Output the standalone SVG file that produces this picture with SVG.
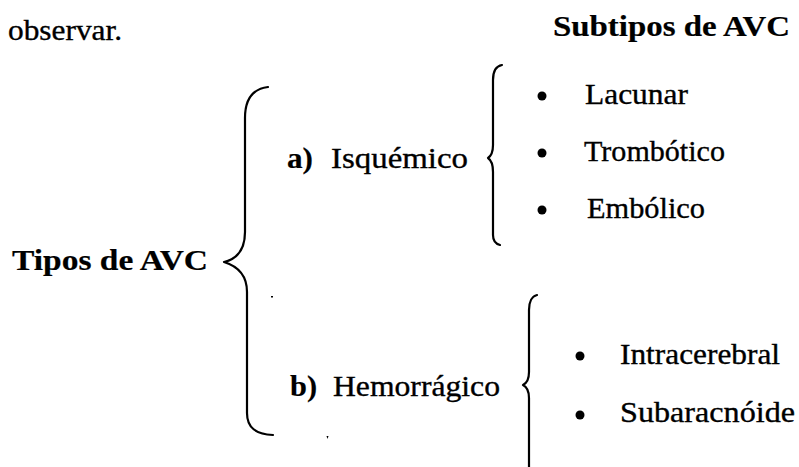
<svg xmlns="http://www.w3.org/2000/svg" width="799" height="467" viewBox="0 0 799 467">
  <style>
    text { font-family: "Liberation Serif", "Times New Roman", serif; font-size: 29px; fill: #000; stroke: #000; stroke-width: 0.35; }
    text.b { font-weight: bold; stroke-width: 0.2; }
    .brace { fill: none; stroke: #000; stroke-width: 2.2; stroke-linecap: round; stroke-linejoin: round; }
    .dot { fill: #000; }
  </style>
  <rect width="799" height="467" fill="#fff"/>

  <text x="8" y="40" textLength="114" lengthAdjust="spacingAndGlyphs">observar.</text>

  <g id="header">
    <text class="b" x="553" y="36" textLength="237" lengthAdjust="spacingAndGlyphs">Subtipos de AVC</text>
  </g>

  <g id="root">
    <text class="b" x="12" y="270" textLength="196" lengthAdjust="spacingAndGlyphs">Tipos de AVC</text>
  </g>

  <g id="isquemico">
    <text class="b" x="287" y="168" textLength="26" lengthAdjust="spacingAndGlyphs">a)</text>
    <text x="331" y="168" textLength="137" lengthAdjust="spacingAndGlyphs">Isquémico</text>
  </g>

  <g id="hemorragico">
    <text class="b" x="290" y="396" textLength="27" lengthAdjust="spacingAndGlyphs">b)</text>
    <text x="333" y="396" textLength="167" lengthAdjust="spacingAndGlyphs">Hemorrágico</text>
  </g>

  <g id="lacunar">
    <circle class="dot" cx="542" cy="96" r="4.5"/>
    <text x="585" y="104" textLength="103" lengthAdjust="spacingAndGlyphs">Lacunar</text>
  </g>
  <g id="trombotico">
    <circle class="dot" cx="542" cy="153" r="4.5"/>
    <text x="584" y="161" textLength="141" lengthAdjust="spacingAndGlyphs">Trombótico</text>
  </g>
  <g id="embolico">
    <circle class="dot" cx="542" cy="210" r="4.5"/>
    <text x="587" y="218" textLength="118" lengthAdjust="spacingAndGlyphs">Embólico</text>
  </g>
  <g id="intracerebral">
    <circle class="dot" cx="580" cy="356" r="4.5"/>
    <text x="620" y="364" textLength="160" lengthAdjust="spacingAndGlyphs">Intracerebral</text>
  </g>
  <g id="subaracnoide">
    <circle class="dot" cx="580" cy="415" r="4.5"/>
    <text x="620" y="422" textLength="175" lengthAdjust="spacingAndGlyphs">Subaracnóide</text>
  </g>

  <g id="connectors">
    <!-- main brace: Tipos de AVC -> a) / b) -->
    <path class="brace" d="M268,87 C252,89 245,100 245,118 L245,232 C245,250 237,259 224,262 C237,266 247,275 247,292 L247,413 C247,428 256,434 273,435"/>
    <!-- brace: Isquémico -> subtypes -->
    <path class="brace" d="M502,65 C496,66 493,72 493,80 L493,145 C493,152 491,156 488,158 C491,160 493,164 493,172 L493,235 C493,241 496,244 500,245"/>
    <!-- brace: Hemorrágico -> subtypes -->
    <path class="brace" d="M537,295 C532,296 529,302 529,310 L529,372 C529,379 527,383 523,385 C527,387 529,391 529,398 L529,468"/>
  </g>

  <!-- small specks -->
  <rect x="271" y="296" width="2" height="1.5" fill="#000"/>
  <path d="M326.5,436 L328.5,436 L327.5,439 Z" fill="#000"/>
</svg>
